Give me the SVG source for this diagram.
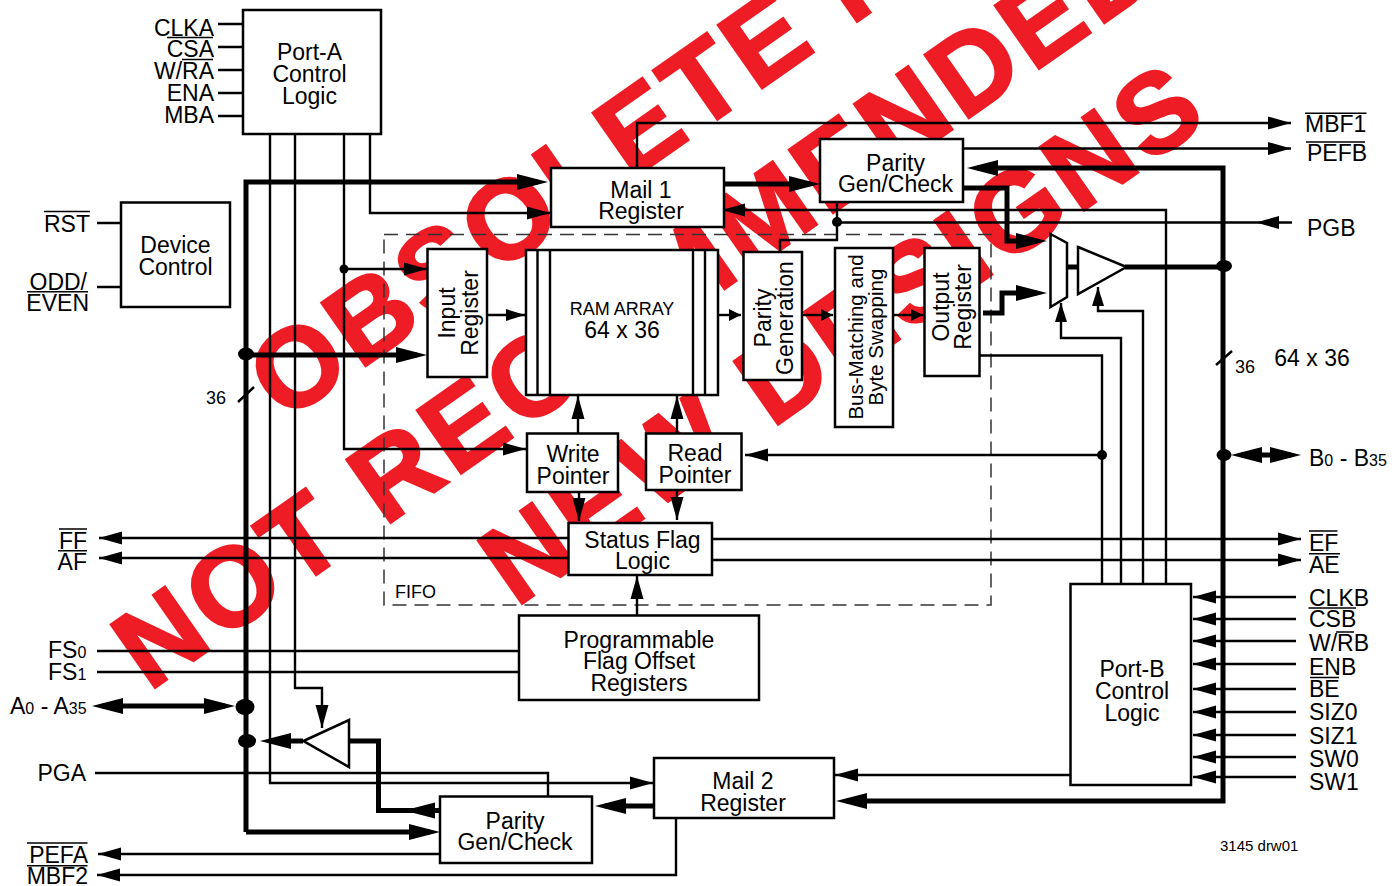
<svg xmlns="http://www.w3.org/2000/svg" width="1400" height="886" viewBox="0 0 1400 886">
<style>
text{font-family:"Liberation Sans",Arial,sans-serif;font-size:23px;fill:#000}
.m{text-anchor:middle}
.e{text-anchor:end}
.sm{font-size:18px}
.wm{font-size:112px;font-weight:700;fill:#ee1c25;stroke:#ee1c25;stroke-width:2.500;letter-spacing:5px}
.ov{fill:none;stroke:#000;stroke-width:1.600}
.b{fill:#fff;stroke:#000;stroke-width:2.500}
.l{fill:none;stroke:#000;stroke-width:2.400}
.k{fill:none;stroke:#000;stroke-width:5}
.sub{font-size:16px}
</style>
<defs>
<marker id="a" markerUnits="userSpaceOnUse" markerWidth="24" markerHeight="16" refX="23" refY="8" orient="auto-start-reverse"><path d="M0 1.500L23 8L0 14.500Z"/></marker>
<marker id="s" markerUnits="userSpaceOnUse" markerWidth="20" markerHeight="14" refX="19" refY="7" orient="auto-start-reverse"><path d="M0 1L19 7L0 13Z"/></marker>
<marker id="t" markerUnits="userSpaceOnUse" markerWidth="32" markerHeight="20" refX="21" refY="10" orient="auto-start-reverse"><path d="M0 2L31 10L0 18Z"/></marker>
<marker id="d" markerUnits="userSpaceOnUse" markerWidth="14" markerHeight="14" refX="12" refY="7" orient="auto"><path d="M0 1L12 7L0 13Z"/></marker>
</defs>
<g id="watermark">
<text class="wm" transform="translate(284 423) rotate(-35)">OBSOLETE P</text>
<text class="wm" transform="translate(149 692) rotate(-35)">NOT RECOMMENDED</text>
<text class="wm" transform="translate(516 608) rotate(-35)">NEW DESIGNS</text>
</g>
<rect x="384" y="234.500" width="607" height="370.500" fill="none" stroke="#333" stroke-width="1.500" stroke-dasharray="14 8"/>
<text class="sm" x="395" y="598">FIFO</text>
<g id="connectors">
<path class="l" d="M218 24H243M218 47H243M218 70H243M218 93H243M218 116H243M97 223H121M97 287H121"/>
<path class="l" d="M270 134V783H653" marker-end="url(#a)"/>
<path class="l" d="M295 134V688H322V728" marker-end="url(#a)"/>
<path class="l" d="M344 134V449H526" marker-end="url(#a)"/>
<path class="l" d="M344 269H427" marker-end="url(#a)"/>
<path class="l" d="M370 134V213H550" marker-end="url(#a)"/>
<path class="k" d="M246 832V182H538" marker-end="url(#t)"/>
<path class="k" d="M246 355H417" marker-end="url(#t)"/>
<path class="k" d="M246 832H430" marker-end="url(#t)"/>
<path class="k" d="M724 184H810" marker-end="url(#t)"/>
<path class="l" d="M487 315H525" marker-end="url(#s)"/>
<path class="l" stroke-width="3" d="M718 315H741" marker-end="url(#d)"/>
<path class="l" stroke-width="3" d="M802 315H833" marker-end="url(#d)"/>
<path class="l" stroke-width="3" d="M893 315H923" marker-end="url(#d)"/>
<path class="l" d="M637 168V123H1291" marker-end="url(#a)"/>
<path class="l" d="M963 148.500H1291" marker-end="url(#a)"/>
<path class="k" d="M846 801H1223V168H977" marker-start="url(#t)" marker-end="url(#t)"/>
<path class="k" d="M963 188H1007V241H1037" marker-end="url(#t)"/>
<path class="k" d="M983 313H1002V293H1037" marker-end="url(#t)"/>
<path class="k" d="M1067 267H1078M1125 267H1224"/>
<path class="l" d="M1166 584V210H722" marker-end="url(#a)"/>
<path class="l" d="M837 222.500H1256M837 202V240H780V252"/>
<path class="l" d="M1292 222.500H1256" marker-end="url(#a)"/>
<path class="l" d="M1121 584V338H1061V303" marker-end="url(#s)"/>
<path class="l" d="M1143 584V311H1098V287" marker-end="url(#s)"/>
<path class="l" d="M980 355.500H1102V584"/>
<path class="l" d="M1102 455H745" marker-end="url(#a)"/>
<path class="k" d="M1241 455H1291" marker-start="url(#t)" marker-end="url(#t)"/>
<path class="l" d="M1216 365L1232 351M238 402L254 387"/>
<path class="l" d="M578 433V396" marker-end="url(#a)"/>
<path class="l" d="M677 433V396" marker-end="url(#a)"/>
<path class="l" d="M579 492V521" marker-end="url(#a)"/>
<path class="l" d="M677 490V520" marker-end="url(#a)"/>
<path class="l" d="M568 538H99" marker-end="url(#a)"/>
<path class="l" d="M568 558H99" marker-end="url(#a)"/>
<path class="l" d="M712 539H1301" marker-end="url(#a)"/>
<path class="l" d="M712 560H1301" marker-end="url(#a)"/>
<path class="l" d="M637 615V576" marker-end="url(#a)"/>
<path class="l" d="M97 651H519M97 672H519"/>
<path class="k" d="M102 706H225" marker-start="url(#t)" marker-end="url(#t)"/>
<path class="k" d="M303 741H270" marker-end="url(#t)"/>
<path class="k" d="M349 741H378.500V810.500H414"/>
<path class="k" d="M440 810.500H414" marker-end="url(#t)"/>
<path class="l" d="M95 773H548V796"/>
<path class="k" d="M654 806H605" marker-end="url(#t)"/>
<path class="l" d="M1070 775H835" marker-end="url(#a)"/>
<path class="l" d="M676 818V875H97" marker-end="url(#a)"/>
<path class="l" d="M440 854H98" marker-end="url(#a)"/>
<path class="l" d="M1296 597H1193" marker-end="url(#a)"/>
<path class="l" d="M1296 619H1193" marker-end="url(#a)"/>
<path class="l" d="M1296 641H1193" marker-end="url(#a)"/>
<path class="l" d="M1296 664H1193" marker-end="url(#a)"/>
<path class="l" d="M1296 689H1193" marker-end="url(#a)"/>
<path class="l" d="M1296 712H1193" marker-end="url(#a)"/>
<path class="l" d="M1296 735H1193" marker-end="url(#a)"/>
<path class="l" d="M1296 757H1193" marker-end="url(#a)"/>
<path class="l" d="M1296 777H1193" marker-end="url(#a)"/>
<ellipse cx="246" cy="354" rx="8" ry="6.500"/>
<ellipse cx="245" cy="707" rx="9.500" ry="8"/>
<ellipse cx="247" cy="741" rx="9" ry="7"/>
<circle cx="344" cy="269" r="4.500"/>
<circle cx="837" cy="222" r="5"/>
<ellipse cx="1224" cy="266" rx="8" ry="6"/>
<ellipse cx="1224" cy="455" rx="7.500" ry="6"/>
<circle cx="1102" cy="455" r="5"/>
</g>
<g id="port-a"><rect class="b" x="243" y="10" width="138" height="124"/><text class="m"><tspan x="309.500" y="60">Port-A</tspan><tspan x="309.500" y="82">Control</tspan><tspan x="309.500" y="104">Logic</tspan></text></g>
<g id="device-control"><rect class="b" x="121" y="202.500" width="109" height="104.500"/><text class="m"><tspan x="175.500" y="253">Device</tspan><tspan x="175.500" y="275">Control</tspan></text></g>
<g id="mail-1"><rect class="b" x="551" y="168" width="173" height="59"/><text class="m"><tspan x="641" y="198">Mail 1</tspan><tspan x="641" y="219">Register</tspan></text></g>
<g id="parity-b"><rect class="b" x="820" y="139" width="143" height="63"/><text class="m"><tspan x="895.500" y="171">Parity</tspan><tspan x="895.500" y="192">Gen/Check</tspan></text></g>
<g id="input-register"><rect class="b" x="427.500" y="249" width="59.500" height="128"/><text class="m" transform="translate(455 313) rotate(-90)">Input</text><text class="m" transform="translate(478 313) rotate(-90)">Register</text></g>
<g id="ram"><rect class="b" x="526" y="250" width="192" height="145"/><path class="l" d="M537.500 250V395M550 250V395M693 250V395M705 250V395"/><text class="m sm" x="622" y="315">RAM ARRAY</text><text class="m" x="622" y="338">64 x 36</text></g>
<g id="parity-generation"><rect class="b" x="743.500" y="252" width="58.500" height="128"/><text class="m" transform="translate(771 318) rotate(-90)">Parity</text><text class="m" transform="translate(793 318) rotate(-90)">Generation</text></g>
<g id="bus-matching"><rect class="b" x="835" y="248" width="58" height="179"/><text class="m" style="font-size:20.500px" transform="translate(863 337) rotate(-90)">Bus-Matching and</text><text class="m" style="font-size:20.500px" transform="translate(883 337) rotate(-90)">Byte Swapping</text></g>
<g id="output-register"><rect class="b" x="924.500" y="248" width="55" height="128"/><text class="m" transform="translate(949 307) rotate(-90)">Output</text><text class="m" transform="translate(971 307) rotate(-90)">Register</text></g>
<g id="mux"><path fill="#fff" stroke="#000" stroke-width="2.500" d="M1050.500 234L1067 243V297L1050.500 307Z"/></g>
<g id="buffer-b"><path fill="#fff" stroke="#000" stroke-width="2.500" d="M1078 247L1126.500 267L1078 294Z"/></g>
<g id="write-pointer"><rect class="b" x="527" y="433.500" width="91" height="58.500"/><text class="m"><tspan x="573" y="462">Write</tspan><tspan x="573" y="484">Pointer</tspan></text></g>
<g id="read-pointer"><rect class="b" x="646" y="433.500" width="95.500" height="56.500"/><text class="m"><tspan x="695" y="461">Read</tspan><tspan x="695" y="483">Pointer</tspan></text></g>
<g id="status"><rect class="b" x="568.500" y="523" width="143.500" height="52"/><text class="m"><tspan x="642.500" y="548">Status Flag</tspan><tspan x="642.500" y="569">Logic</tspan></text></g>
<g id="programmable"><rect class="b" x="519" y="615.500" width="240" height="84.500"/><text class="m"><tspan x="639" y="648">Programmable</tspan><tspan x="639" y="669">Flag Offset</tspan><tspan x="639" y="691">Registers</tspan></text></g>
<g id="buffer-a"><path fill="#fff" stroke="#000" stroke-width="2.500" d="M303.500 741L349 720V767Z"/></g>
<g id="parity-a"><rect class="b" x="440" y="796.500" width="152" height="66.500"/><text class="m"><tspan x="515" y="829">Parity</tspan><tspan x="515" y="850">Gen/Check</tspan></text></g>
<g id="mail-2"><rect class="b" x="654" y="758" width="180" height="60"/><text class="m"><tspan x="743" y="789">Mail 2</tspan><tspan x="743" y="811">Register</tspan></text></g>
<g id="port-b"><rect class="b" x="1070.500" y="584" width="120.500" height="201"/><text class="m"><tspan x="1132" y="677">Port-B</tspan><tspan x="1132" y="699">Control</tspan><tspan x="1132" y="721">Logic</tspan></text></g>
<g id="labels">
<text class="e" x="214" y="36">CLKA</text>
<text class="e" x="214" y="57">CSA</text>
<text class="e" x="214" y="79">W/RA</text>
<text class="e" x="214" y="101">ENA</text>
<text class="e" x="214" y="123">MBA</text>
<text class="e" x="90" y="232">RST</text>
<text class="e" x="87" y="290">ODD/</text>
<text class="e" x="89" y="311">EVEN</text>
<text class="sm m" x="216" y="404">36</text>
<text class="sm m" x="1245" y="373">36</text>
<text class="m" x="1312" y="366">64 x 36</text>
<text x="1305" y="132">MBF1</text>
<text x="1307" y="161">PEFB</text>
<text x="1307" y="236">PGB</text>
<text x="1309" y="466">B<tspan class="sub">0</tspan> - B<tspan class="sub">35</tspan></text>
<text x="1309" y="551">EF</text>
<text x="1309" y="573">AE</text>
<text x="1309" y="606">CLKB</text>
<text x="1309" y="627">CSB</text>
<text x="1309" y="651">W/RB</text>
<text x="1309" y="675">ENB</text>
<text x="1309" y="697">BE</text>
<text x="1309" y="720">SIZ0</text>
<text x="1309" y="744">SIZ1</text>
<text x="1309" y="767">SW0</text>
<text x="1309" y="790">SW1</text>
<text class="e" x="87" y="549">FF</text>
<text class="e" x="87" y="570">AF</text>
<text x="48" y="658">FS<tspan class="sub">0</tspan></text>
<text x="48" y="680">FS<tspan class="sub">1</tspan></text>
<text x="10" y="714">A<tspan class="sub">0</tspan> - A<tspan class="sub">35</tspan></text>
<text class="e" x="86" y="781">PGA</text>
<text class="e" x="88" y="863">PEFA</text>
<text class="e" x="88" y="884">MBF2</text>
<text style="font-size:15px" x="1220" y="851">3145 drw01</text>
<path class="ov" d="M167 37.500H213M182 59.500H213M44 211.500H90M27 291.700H88M59 529H87M58 550.700H87M27 843H87.500M27 865.700H87.500M1305 113.300H1366.500M1306 142H1365M1309 531H1337.500M1309 553.700H1340M1308.500 608H1356M1336 632H1354M1310 677.500H1339"/>
</g>
</svg>
